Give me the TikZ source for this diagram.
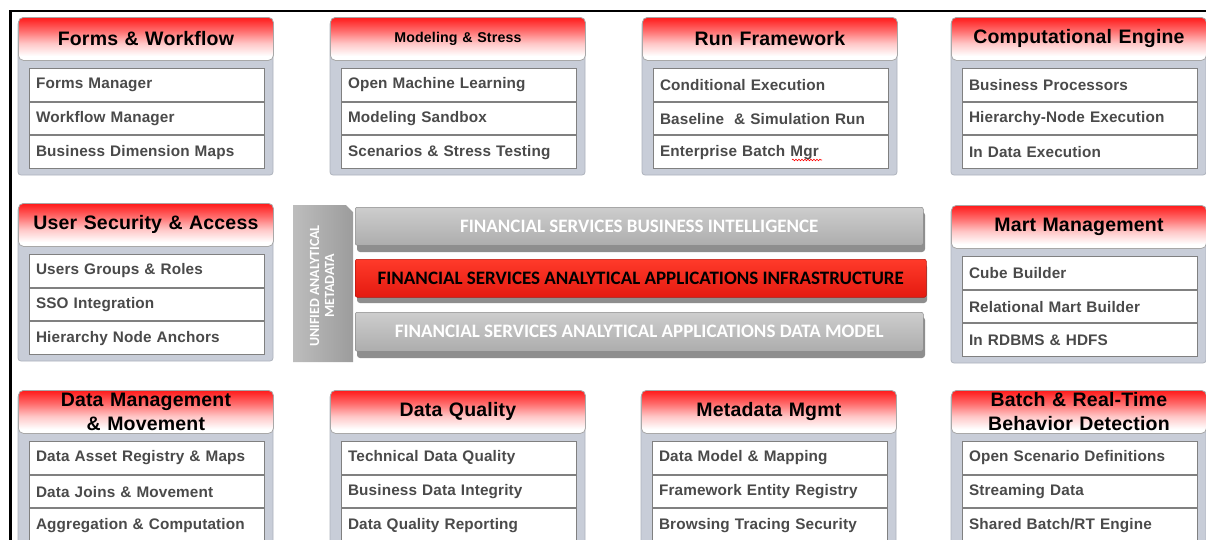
\documentclass[tikz,border=0pt]{standalone}
\usepackage{fontspec}
\setmainfont{Liberation Sans}
\newfontfamily\itemfont[LetterSpace=1]{Liberation Sans}
\newfontfamily\barfont{Carlito}
\usetikzlibrary{decorations.pathmorphing}
\definecolor{panelgray}{HTML}{C8CDD8}
\definecolor{paneledge}{HTML}{AEB3BD}
\definecolor{hdrred}{HTML}{FF1A1A}
\definecolor{hdredge}{HTML}{A8A8A8}
\definecolor{itemline}{HTML}{808080}
\definecolor{itemtext}{HTML}{4A4A4A}
\definecolor{shadowgray}{HTML}{8E8E8E}
\definecolor{bartop}{HTML}{CDCDCD}
\definecolor{barbot}{HTML}{ADADAD}
\definecolor{redtop}{HTML}{FF3A2A}
\definecolor{redbot}{HTML}{E41A10}
\definecolor{vbarL}{HTML}{BDBDBD}
\definecolor{vbarR}{HTML}{9C9C9C}
\pgfdeclareverticalshading{hdrshade}{100bp}{color(0bp)=(white); color(30bp)=(white); color(45bp)=(hdrred!25!white); color(60bp)=(hdrred!65!white); color(75bp)=(hdrred); color(100bp)=(hdrred)}
\tikzset{
  panelbg/.style={fill=panelgray, draw=paneledge, line width=0.8, rounded corners=3},
  hdr/.style={draw=hdredge, line width=0.8, rounded corners=5, shading=hdrshade,
    minimum width=255, minimum height=43, inner sep=1, text width=250, align=center,
    font=\itemfont\bfseries\fontsize{19.5}{24}\selectfont, text=black},
  item/.style={draw=itemline, line width=1, fill=white, minimum height=32.7,
    text width=221, inner xsep=7, inner ysep=0, align=left,
    font=\itemfont\bfseries\fontsize{15.3}{17}\selectfont, text=itemtext},
  barnode/.style={rounded corners=2, minimum width=568, minimum height=38, inner sep=0,
    font=\barfont\bfseries\fontsize{19}{22}\selectfont},
  graybar/.style={barnode, top color=bartop, bottom color=barbot, draw=barbot!80!black, line width=0.5, text=white},
  redbar/.style={barnode, top color=redtop, bottom color=redbot, draw=redbot!80!black, line width=0.5, text=black},
}
% name, x, y, title style, title, item1, item2, item3
\newcommand{\fpanel}[8]{%
  \path[panelbg] (#2,#3+4) rectangle (#2+255,#3+158);
  \node[hdr, anchor=north west, #4] (#1) at (#2,#3) {#5};
  \node[item, anchor=north west] (#1-1) at (#2+10.5,#3+51) {#6};
  \node[item, anchor=north west] (#1-2) at (#1-1.south west) {#7};
  \node[item, anchor=north west] (#1-3) at (#1-2.south west) {#8};
}
\begin{document}
\begin{tikzpicture}[x=1pt, y=-1pt]
\useasboundingbox (0,0) rectangle (1206,539);
\clip (0,0) rectangle (1206,539);
\fill[white] (0,0) rectangle (1206,539);

% top row
\fpanel{forms}{18}{17}{}{Forms \& Workflow}{Forms Manager}{Workflow Manager}{Business Dimension Maps}
\fpanel{model}{330}{17}{font=\itemfont\bfseries\fontsize{14.2}{16}\selectfont}{Modeling \& Stress}{Open Machine Learning}{Modeling Sandbox}{Scenarios \& Stress Testing}
\fpanel{run}{642}{17}{}{Run Framework}{Conditional Execution}{Baseline \ \& Simulation Run}{Enterprise Batch Mgr}
\fpanel{comp}{951}{17}{}{Computational Engine}{Business Processors}{Hierarchy-Node Execution}{In Data Execution}

% middle row
\fpanel{user}{18}{203}{}{User Security \& Access}{Users Groups \& Roles}{SSO Integration}{Hierarchy Node Anchors}
\fpanel{mart}{951}{205}{}{Mart Management}{Cube Builder}{Relational Mart Builder}{In RDBMS \& HDFS}

% bottom row
\fpanel{dmm}{18}{390}{}{Data Management\\\& Movement}{Data Asset Registry \& Maps}{Data Joins \& Movement}{Aggregation \& Computation}
\fpanel{dq}{330}{390}{}{Data Quality}{Technical Data Quality}{Business Data Integrity}{Data Quality Reporting}
\fpanel{meta}{641}{390}{}{Metadata Mgmt}{Data Model \& Mapping}{Framework Entity Registry}{Browsing Tracing Security}
\fpanel{batch}{951}{390}{}{Batch \& Real-Time\\Behavior Detection}{Open Scenario Definitions}{Streaming Data}{Shared Batch/RT Engine}

% spell-check squiggle
\draw[red, line width=0.6, decorate, decoration={snake, amplitude=0.8, segment length=3}] (792,160) -- (822,160);

% central block
\shade[left color=vbarL, right color=vbarR] (293,362) -- (293,205) -- (346,205) -- (353,212) -- (353,362) -- cycle;
\node[rotate=90, text=white, align=center, font=\barfont\bfseries\fontsize{14}{15}\selectfont] (uam) at (322,286) {UNIFIED ANALYTICAL\\METADATA};

\fill[shadowgray, rounded corners=3] (357,212) rectangle (925,252);
\node[graybar, anchor=north west] (bi) at (355,207) {FINANCIAL SERVICES BUSINESS INTELLIGENCE};
\fill[shadowgray, rounded corners=3] (357,264) rectangle (927,303);
\node[redbar, anchor=north west, minimum width=571] (infra) at (355,259) {FINANCIAL SERVICES ANALYTICAL APPLICATIONS INFRASTRUCTURE};
\fill[shadowgray, rounded corners=3] (357,317) rectangle (925,358);
\node[graybar, anchor=north west, minimum height=39] (dm) at (355,312) {FINANCIAL SERVICES ANALYTICAL APPLICATIONS DATA MODEL};

% frame
\draw[black, line width=2.2] (10.5,540) -- (10.5,11) -- (1207,11);
\end{tikzpicture}
\end{document}
